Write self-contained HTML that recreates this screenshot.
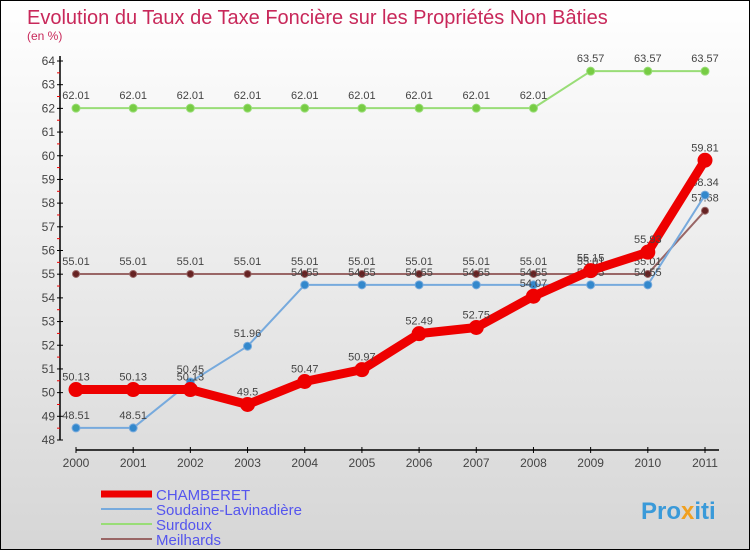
<!DOCTYPE html>
<html><head><meta charset="utf-8"><style>
html,body{margin:0;padding:0}
body{width:750px;height:550px;overflow:hidden;font-family:"Liberation Sans",sans-serif}
#wrap{position:relative;width:748px;height:548px;border:1px solid #000;background:linear-gradient(#ffffff,#d6d6d6)}
</style></head><body>
<div id="wrap">
<svg id="chart" width="748" height="548" style="position:absolute;left:0;top:0">
<text x="26" y="23" font-size="20" fill="#c8285a">Evolution du Taux de Taxe Foncière sur les Propriétés Non Bâties</text>
<text x="26" y="39" font-size="12" fill="#c8285a">(en %)</text>
<g id="axes"></g><g id="series"></g>
<text x="640" y="518" font-size="24" font-weight="bold" fill="#3a9ad9">Pro<tspan fill="#f0a020">x</tspan>iti</text>
</svg>
</div>
<script>
const years=["2000","2001","2002","2003","2004","2005","2006","2007","2008","2009","2010","2011"];
const yTicks=[48,49,50,51,52,53,54,55,56,57,58,59,60,61,62,63,64];
const chamberet=[50.13,50.13,50.13,49.5,50.47,50.97,52.49,52.75,54.07,55.15,55.93,59.81];
const soudaine=[48.51,48.51,50.45,51.96,54.55,54.55,54.55,54.55,54.55,54.55,54.55,58.34];
const surdoux=[62.01,62.01,62.01,62.01,62.01,62.01,62.01,62.01,62.01,63.57,63.57,63.57];
const meilhards=[55.01,55.01,55.01,55.01,55.01,55.01,55.01,55.01,55.01,55.01,55.01,57.68];
const NS="http://www.w3.org/2000/svg";
const xS=i=>75+i*(704-75)/11;
const yS=v=>439-(v-48)*(439-60)/16;
function mk(tag,attrs,parent){const e=document.createElementNS(NS,tag);for(const k in attrs)e.setAttribute(k,attrs[k]);parent.appendChild(e);return e;}
const axes=document.getElementById('axes'),ser=document.getElementById('series');
let a=mk('line',{x1:59,y1:55,x2:59,y2:439,stroke:'#000','stroke-width':1.5},axes);


a=mk('line',{x1:75,y1:449,x2:718,y2:449,stroke:'#000','stroke-width':1.5},axes);


yTicks.forEach((v,i)=>{
 mk('line',{x1:56,y1:yS(v),x2:62,y2:yS(v),stroke:'#000'},axes);
 if(i<yTicks.length-1)mk('line',{x1:56,y1:yS(v+0.5),x2:59,y2:yS(v+0.5),stroke:'#e00'},axes);
 const t=mk('text',{x:54,y:yS(v)+4,'font-size':12,fill:'#444','text-anchor':'end'},axes);t.textContent=v;
 
 
});
years.forEach((y,i)=>{
 mk('line',{x1:xS(i),y1:446,x2:xS(i),y2:452,stroke:'#000'},axes);
 const t=mk('text',{x:xS(i),y:466,'font-size':12,fill:'#444','text-anchor':'middle'},axes);t.textContent=y;
 
 
});
function draw(vals,color,w,r,dot,name){
 const g=mk('g',{},ser);
 
 
 mk('polyline',{points:vals.map((v,i)=>xS(i)+','+yS(v)).join(' '),fill:'none',stroke:color,'stroke-width':w,'stroke-linejoin':'round'},g);
 vals.forEach((v,i)=>{
  const c=mk('circle',{cx:xS(i),cy:yS(v),r:r,fill:dot,stroke:color,'stroke-width':1},g);
  
  
  const t=mk('text',{x:xS(i),y:yS(v)-9,'font-size':11,fill:'#444','text-anchor':'middle'},g);t.textContent=v;
  
  
 });
}
draw(surdoux,'#99dd77',2,4,'#77cc44','surdoux');
draw(meilhards,'#996666',2,3.5,'#662222','meilhards');
draw(soudaine,'#77aadd',2,4,'#3388cc','soudaine');
draw(chamberet,'#ee0000',9,7,'#ee0000','chamberet');
const leg=[["CHAMBERET","#ee0000",7],["Soudaine-Lavinadière","#77aadd",2],["Surdoux","#99dd77",2],["Meilhards","#996666",2]];
leg.forEach((l,i)=>{
 const y=493+i*15;
 const g=mk('g',{},ser);
 
 
 mk('line',{x1:100,y1:y,x2:151,y2:y,stroke:l[1],'stroke-width':l[2]},g);
 const t=mk('text',{x:155,y:y+6,'font-size':15,fill:'#5555ee'},g);t.textContent=l[0];
});
</script>
</body></html>
